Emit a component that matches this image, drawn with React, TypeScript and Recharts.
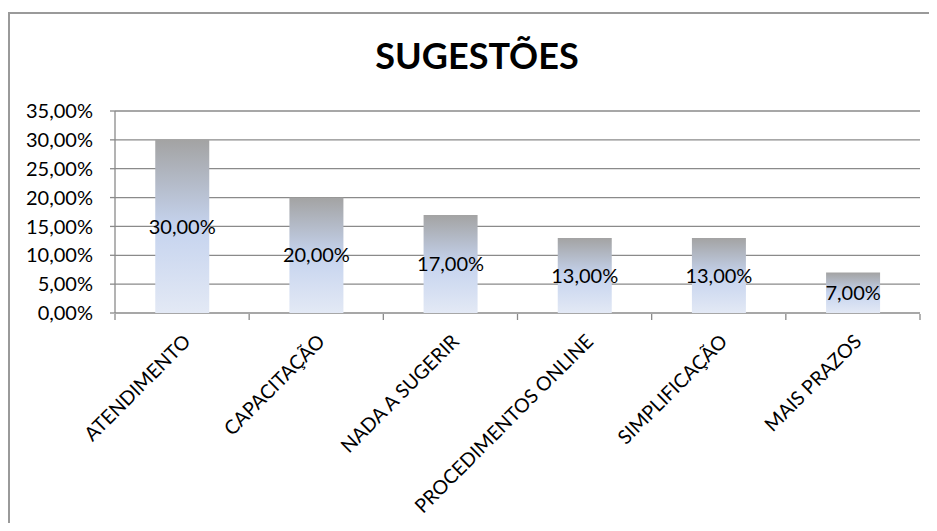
import { BarChart, Bar, XAxis, YAxis, CartesianGrid, LabelList } from 'recharts';

const categories = [
  'ATENDIMENTO',
  'CAPACITAÇÃO',
  'NADA A SUGERIR',
  'PROCEDIMENTOS ONLINE',
  'SIMPLIFICAÇÃO',
  'MAIS PRAZOS',
];
const shares = [30, 20, 17, 13, 13, 7];
const yTicks = [0, 5, 10, 15, 20, 25, 30, 35];
// category boundaries, used for the tick marks between bars
const edgeTicks = [0, 1, 2, 3, 4, 5, 6];

const FONT = 'Lato, "Open Sans", sans-serif';
const GRID = '#8a8a8a';

const pct = (v: number) => v.toFixed(2).replace('.', ',') + '%';

export default function App() {
  const data = categories.map((name, i) => ({ name, value: shares[i], pos: i + 0.5 }));

  return (
    <div style={{ position: 'relative', width: 929, height: 515, overflow: 'hidden', fontFamily: FONT }}>
      <div
        style={{
          position: 'absolute',
          left: 0,
          top: 4,
          width: 960,
          height: 560,
          border: '2px solid #9a9a9a',
          boxSizing: 'border-box',
        }}
      />
      <div
        style={{
          position: 'absolute',
          left: 0,
          width: 938,
          top: 26,
          textAlign: 'center',
          fontSize: 36,
          fontWeight: 700,
          lineHeight: '42px',
          color: '#000',
        }}
      >
        SUGESTÕES
      </div>
      <div style={{ position: 'absolute', left: 0, top: 0 }}>
        <BarChart
          width={929}
          height={515}
          data={data}
          margin={{ top: 103, right: 17, left: 7, bottom: 208 }}
          barCategoryGap="30%"
        >
          <defs>
            <linearGradient id="barFill" x1="0" y1="0" x2="0" y2="1">
              <stop offset="0%" stopColor="#a3a3a3" />
              <stop offset="50%" stopColor="#c5d3ee" />
              <stop offset="100%" stopColor="#e3e9f5" />
            </linearGradient>
          </defs>
          {/* the 0% grid line doubles as the x axis line */}
          <CartesianGrid vertical={false} stroke={GRID} strokeWidth={1.3} />
          <XAxis
            xAxisId="cat"
            dataKey="name"
            height={1}
            axisLine={false}
            tickLine={false}
            interval={0}
            angle={-45}
            textAnchor="end"
            tickMargin={14}
            tick={{ fill: '#000', fontSize: 19.5, fontFamily: FONT }}
          />
          <XAxis
            xAxisId="edges"
            type="number"
            dataKey="pos"
            domain={[0, 6]}
            ticks={edgeTicks}
            interval={0}
            height={1}
            axisLine={false}
            tickLine={{ stroke: GRID, strokeWidth: 1.3 }}
            tickSize={6}
            tickFormatter={() => ''}
          />
          <YAxis
            width={100}
            domain={[0, 35]}
            ticks={yTicks}
            interval={0}
            tickFormatter={pct}
            axisLine={{ stroke: GRID, strokeWidth: 1.3 }}
            tickLine={{ stroke: GRID, strokeWidth: 1.3 }}
            tickSize={5}
            tickMargin={17}
            tick={{ fill: '#000', fontSize: 20, fontFamily: FONT }}
          />
          <Bar dataKey="value" xAxisId="cat" fill="url(#barFill)" isAnimationActive={false}>
            <LabelList
              dataKey="value"
              position="center"
              formatter={(v: number) => pct(v)}
              style={{ fill: '#000', fontSize: 20, fontFamily: FONT }}
            />
          </Bar>
        </BarChart>
      </div>
    </div>
  );
}
